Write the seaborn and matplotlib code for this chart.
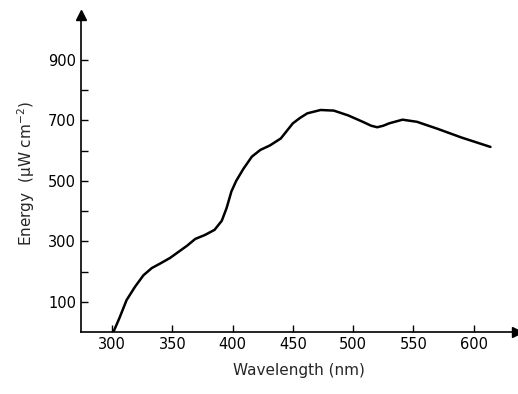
import numpy as np
import pandas as pd
import matplotlib
matplotlib.use("Agg")
import matplotlib.pyplot as plt
import seaborn as sns

# values
wavelength = [301, 306, 312, 319, 326, 333, 340, 348, 355, 362, 369, 377, 385,
              391, 395, 399, 403, 409, 416, 423, 431, 440, 450, 456, 462, 473,
              484, 496, 508, 515, 520, 525, 530, 541, 553, 570, 590, 614]
energy = [0, 46, 106, 150, 188, 212, 227, 245, 265, 285, 308, 321, 338,
          368, 410, 465, 500, 540, 580, 602, 617, 640, 690, 708, 723, 734,
          732, 716, 695, 682, 677, 682, 690, 702, 695, 672, 643, 612]

x_ticks = [300, 350, 400, 450, 500, 550, 600]
y_ticks = [100, 300, 500, 700, 900]
y_minor = [200, 400, 600, 800]

df = pd.DataFrame({"Wavelength": wavelength, "Energy": energy})

sns.set_style("ticks")
plt.rcParams["font.family"] = ["DejaVu Sans"]

fig = plt.figure(figsize=(5.18, 3.94), dpi=100)
ax = fig.add_axes([0.156, 0.157, 0.842, 0.805])

sns.lineplot(data=df, x="Wavelength", y="Energy", color="black", linewidth=1.8, ax=ax)
ax.lines[0].set_solid_joinstyle("round")

ax.set_xlim(274, 636)
ax.set_ylim(0, 1048)
ax.set_xticks(x_ticks)
ax.set_yticks(y_ticks)
ax.set_yticks(y_minor, minor=True)
ax.tick_params(axis="both", which="both", direction="in", length=5, width=1,
               labelsize=10.5, color="black", labelcolor="black")

sns.despine(ax=ax)
for s in ["left", "bottom"]:
    ax.spines[s].set_linewidth(1.2)
    ax.spines[s].set_color("black")

# arrow heads on the axes
ax.plot(1, 0, ">k", markersize=7, transform=ax.transAxes, clip_on=False)
ax.plot(0, 1, "^k", markersize=7, transform=ax.transAxes, clip_on=False)

ax.set_xlabel("Wavelength (nm)", fontsize=11, labelpad=8)
ax.set_ylabel("Energy  (µW cm$^{-2}$)", fontsize=11, labelpad=8)

fig.savefig("out.png", dpi=100)
